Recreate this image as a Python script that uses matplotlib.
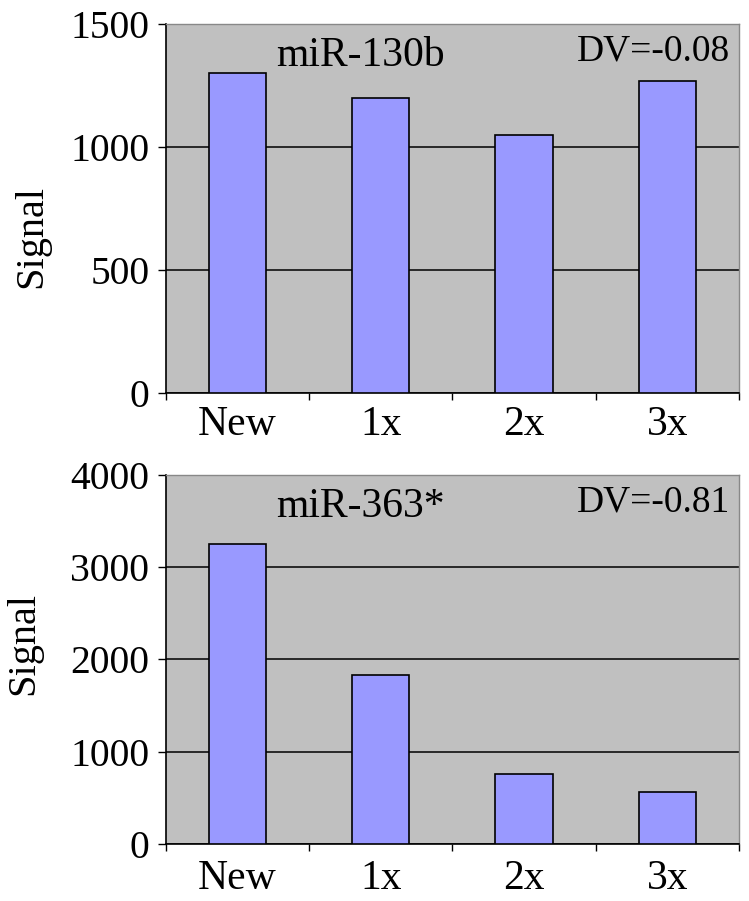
"""Bar charts of miRNA signal across sample ages."""

import matplotlib

matplotlib.use("Agg")
import matplotlib.pyplot as plt
import numpy as np

plt.rcParams["font.family"] = ["Liberation Serif", "DejaVu Serif"]

categories = ["New", "1x", "2x", "3x"]

top_name = "miR-130b"
top_dv = "DV=-0.08"
top_values = [1300, 1200, 1050, 1270]
top_yticks = [0, 500, 1000, 1500]

bottom_name = "miR-363*"
bottom_dv = "DV=-0.81"
bottom_values = [3250, 1830, 760, 560]
bottom_yticks = [0, 1000, 2000, 3000, 4000]

BG = "#c0c0c0"
BAR = "#9999ff"


def draw_panel(ax, values, yticks, name, dv, label_xy, xlabel_pad):
    x = np.arange(len(categories))
    ax.set_facecolor(BG)
    ax.bar(x, values, width=0.4, color=BAR, edgecolor="black", linewidth=1.2, zorder=3)
    ax.set_xlim(-0.5, len(categories) - 0.5)
    ax.set_ylim(yticks[0], yticks[-1])

    ax.set_yticks(yticks)
    ax.yaxis.grid(True, color="black", linewidth=1.1, zorder=1)
    ax.set_axisbelow(True)
    ax.tick_params(axis="y", length=6, width=1, pad=6, labelsize=28.5)

    # ticks at category boundaries, labels at centres
    ax.set_xticks(np.arange(len(categories) + 1) - 0.5)
    ax.set_xticklabels([])
    ax.set_xticks(x, minor=True)
    ax.set_xticklabels(categories, minor=True, fontsize=30)
    ax.tick_params(axis="x", which="major", length=5, width=1)
    ax.tick_params(axis="x", which="minor", length=0, pad=xlabel_pad)

    for side in ("left", "bottom"):
        ax.spines[side].set_color("black")
        ax.spines[side].set_linewidth(1.2)
    for side in ("top", "right"):
        ax.spines[side].set_color("#888888")
        ax.spines[side].set_linewidth(1)

    ax.text(0.34, 0.885, name, transform=ax.transAxes, ha="center",
            va="baseline", fontsize=30)
    ax.text(0.985, 0.9, dv, transform=ax.transAxes, ha="right",
            va="baseline", fontsize=27)
    ax.text(label_xy[0], label_xy[1], "Signal", transform=ax.transAxes,
            rotation=90, ha="center", va="center", fontsize=29)


fig = plt.figure(figsize=(7.49, 9.01), dpi=100)
ax_top = fig.add_axes([0.2216, 0.5638, 0.765, 0.4095])
ax_bottom = fig.add_axes([0.2216, 0.0633, 0.765, 0.4095])

draw_panel(ax_top, top_values, top_yticks, top_name, top_dv, (-0.235, 0.425), 9)
draw_panel(ax_bottom, bottom_values, bottom_yticks, bottom_name, bottom_dv, (-0.248, 0.542), 11)

fig.savefig("out.png", dpi=100, facecolor="white")
